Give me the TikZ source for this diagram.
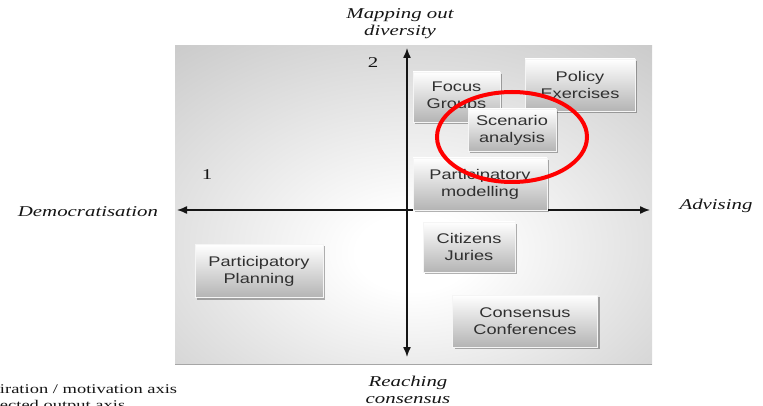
\documentclass[tikz,border=0pt]{standalone}
\usepackage{fontspec}
\newfontfamily\serifwide{Liberation Serif}[FakeStretch=1.39]
\newfontfamily\sanswide{Liberation Sans}[FakeStretch=1.3]
\usetikzlibrary{arrows.meta,shadows}
\definecolor{panelgray}{HTML}{BDBDBD}
\definecolor{cardgray}{HTML}{B4B4B4}
\definecolor{cardtext}{HTML}{303030}
\definecolor{axisink}{HTML}{151515}
% soft light spot slightly below the middle of the panel
\pgfdeclareradialshading{panelglow}{\pgfpoint{0bp}{-8bp}}{%
  color(0bp)=(white); color(6bp)=(white); color(48bp)=(panelgray); color(100bp)=(panelgray)}
\begin{document}
\begin{tikzpicture}[x=1pt,y=-1pt,
  card/.style={rectangle, draw=white!92!gray, line width=0.6pt,
    shading=axis, shading angle=45, top color=white, bottom color=cardgray,
    drop shadow={shadow xshift=2pt, shadow yshift=-2pt, fill=black, opacity=0.3},
    font=\sanswide\fontsize{14}{17}\selectfont, text=cardtext, align=center,
    inner sep=0pt},
  axislabel/.style={font=\serifwide\itshape\fontsize{15}{17}\selectfont,
    text=axisink, align=center, inner sep=0pt},
  quadnum/.style={font=\serifwide\fontsize{15}{17}\selectfont, text=axisink, inner sep=0pt},
  axis/.style={line width=1.4pt, axisink,
    {Latex[length=10pt,width=8pt]}-{Latex[length=10pt,width=8pt]}},
  note/.style={font=\serifwide\fontsize{13.3}{16}\selectfont, text=axisink,
    anchor=base west, inner sep=0pt}]
\useasboundingbox (0,0) rectangle (763,406);

% background panel with a soft radial highlight
\shade[shading=panelglow] (175,46) rectangle (652,364);
\draw[gray!70, line width=0.6pt] (175,364) -- (652,364);

% axes
\coordinate (west) at (177,210);
\coordinate (east) at (650,210);
\coordinate (north) at (407,48);
\coordinate (south) at (407,357);
\draw[axis] (west) -- (east);
\draw[axis] (south) -- (north);

% quadrant numbers
\node[quadnum] (q1) at (207,175) {1};
\node[quadnum] (q2) at (373,63) {2};

% method cards
\node[card, minimum width=87pt, minimum height=50pt] (focus) at (456.5,97) {Focus\\Groups};
\node[card, minimum width=110pt, minimum height=52pt] (policy) at (580,85) {Policy\\Exercises};
\node[card, minimum width=88pt, minimum height=42pt] (scenario) at (512,130) {Scenario\\analysis};
\node[card, minimum width=134pt, minimum height=52pt] (model) at (480,184) {Participatory\\modelling};
\node[card, minimum width=92pt, minimum height=50pt] (juries) at (469,247) {Citizens\\Juries};
\node[card, minimum width=128pt, minimum height=53pt] (planning) at (259,271) {Participatory\\Planning};
\node[card, minimum width=145pt, minimum height=52pt] (consensus) at (525,321) {Consensus\\Conferences};

% highlight ring
\draw[red, line width=4pt] (512,137) ellipse [x radius=75, y radius=45];

% axis labels
\node[axislabel] (top) at (400,24) {Mapping out\\diversity};
\node[axislabel, anchor=base] (left) at (88,217) {Democratisation};
\node[axislabel, anchor=base] (right) at (716,210) {Advising};
\node[axislabel] (bottom) at (408,390) {Reaching\\consensus};

% legend lines running off the page edge
\begin{scope}
  \clip (0,0) rectangle (763,406);
  \node[note] (leg1) at (-30,393) {Aspiration / motivation axis};
  \node[note] (leg2) at (-30,409) {Expected output axis};
\end{scope}
\end{tikzpicture}
\end{document}
